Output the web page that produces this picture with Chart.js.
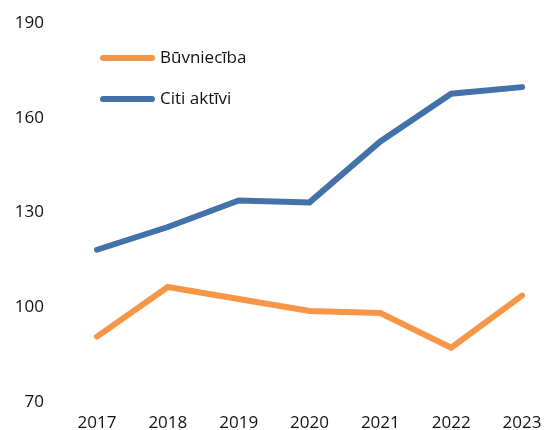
<!DOCTYPE html>
<html>
<head>
<meta charset="utf-8">
<script src="https://cdn.jsdelivr.net/npm/chart.js"></script>
<style>
  body { margin: 0; background: #fff; }
  #wrap { width: 545px; height: 430px; }
</style>
</head>
<body>
<div id="wrap"><canvas id="dataChart" width="545" height="430"></canvas></div>
<script>
// data
const years = ['2017', '2018', '2019', '2020', '2021', '2022', '2023'];
const buvnieciba = [90.7, 106.4, 102.6, 98.8, 98.2, 87.2, 103.7];
const citiAktivi = [118.2, 125.4, 133.8, 133.2, 152.5, 167.6, 169.7];
const yTicks = [70, 100, 130, 160, 190];

const fontFamily = '"Open Sans", Lato, sans-serif';
const textColor = '#111111';

// legend drawn inside the plot, top-left, one item per row
const insideLegend = {
    id: 'insideLegend',
    afterDraw: function(chart) {
        const c = chart.ctx;
        c.save();
        c.font = '17px ' + fontFamily;
        c.textBaseline = 'middle';
        c.textAlign = 'left';
        chart.data.datasets.forEach(function(ds, i) {
            const y = 58 + i * 41;
            c.strokeStyle = ds.borderColor;
            c.lineWidth = 6;
            c.lineCap = 'round';
            c.beginPath();
            c.moveTo(103, y);
            c.lineTo(152, y);
            c.stroke();
            c.fillStyle = textColor;
            c.fillText(ds.label, 160, y);
        });
        c.restore();
    }
};

window.addEventListener('DOMContentLoaded', function() {
    const ctx = document.getElementById('dataChart').getContext('2d');
    new Chart(ctx, {
        type: 'line',
        data: {
            labels: years,
            datasets: [{
                label: 'Būvniecība',
                data: buvnieciba,
                borderColor: '#F79646',
                borderWidth: 6,
                borderCapStyle: 'round',
                borderJoinStyle: 'miter',
                pointRadius: 0,
                tension: 0
            }, {
                label: 'Citi aktīvi',
                data: citiAktivi,
                borderColor: '#4372AA',
                borderWidth: 6,
                borderCapStyle: 'round',
                borderJoinStyle: 'miter',
                pointRadius: 0,
                tension: 0
            }]
        },
        options: {
            responsive: false,
            animation: false,
            layout: { padding: { top: 23, right: 23, bottom: 0, left: 0 } },
            plugins: {
                tooltip: { enabled: false },
                legend: { display: false }
            },
            scales: {
                x: {
                    offset: false,
                    grid: { display: false, drawTicks: false },
                    border: { display: false },
                    ticks: {
                        color: textColor,
                        padding: 11,
                        maxRotation: 0,
                        font: { family: fontFamily, size: 17 }
                    },
                    afterFit: function(scale) {
                        scale.height = 28;
                        scale.paddingLeft = 0;
                        scale.paddingRight = 0;
                    }
                },
                y: {
                    min: yTicks[0],
                    max: yTicks[yTicks.length - 1],
                    grid: { display: false, drawTicks: false },
                    border: { display: false },
                    afterBuildTicks: function(scale) {
                        scale.ticks = yTicks.map(v => ({ value: v }));
                    },
                    ticks: {
                        color: textColor,
                        padding: 53,
                        font: { family: fontFamily, size: 17 }
                    },
                    afterFit: function(scale) {
                        scale.width = 97;
                        scale.paddingTop = 0;
                        scale.paddingBottom = 0;
                    }
                }
            }
        },
        plugins: [insideLegend]
    });
});
</script>
</body>
</html>
